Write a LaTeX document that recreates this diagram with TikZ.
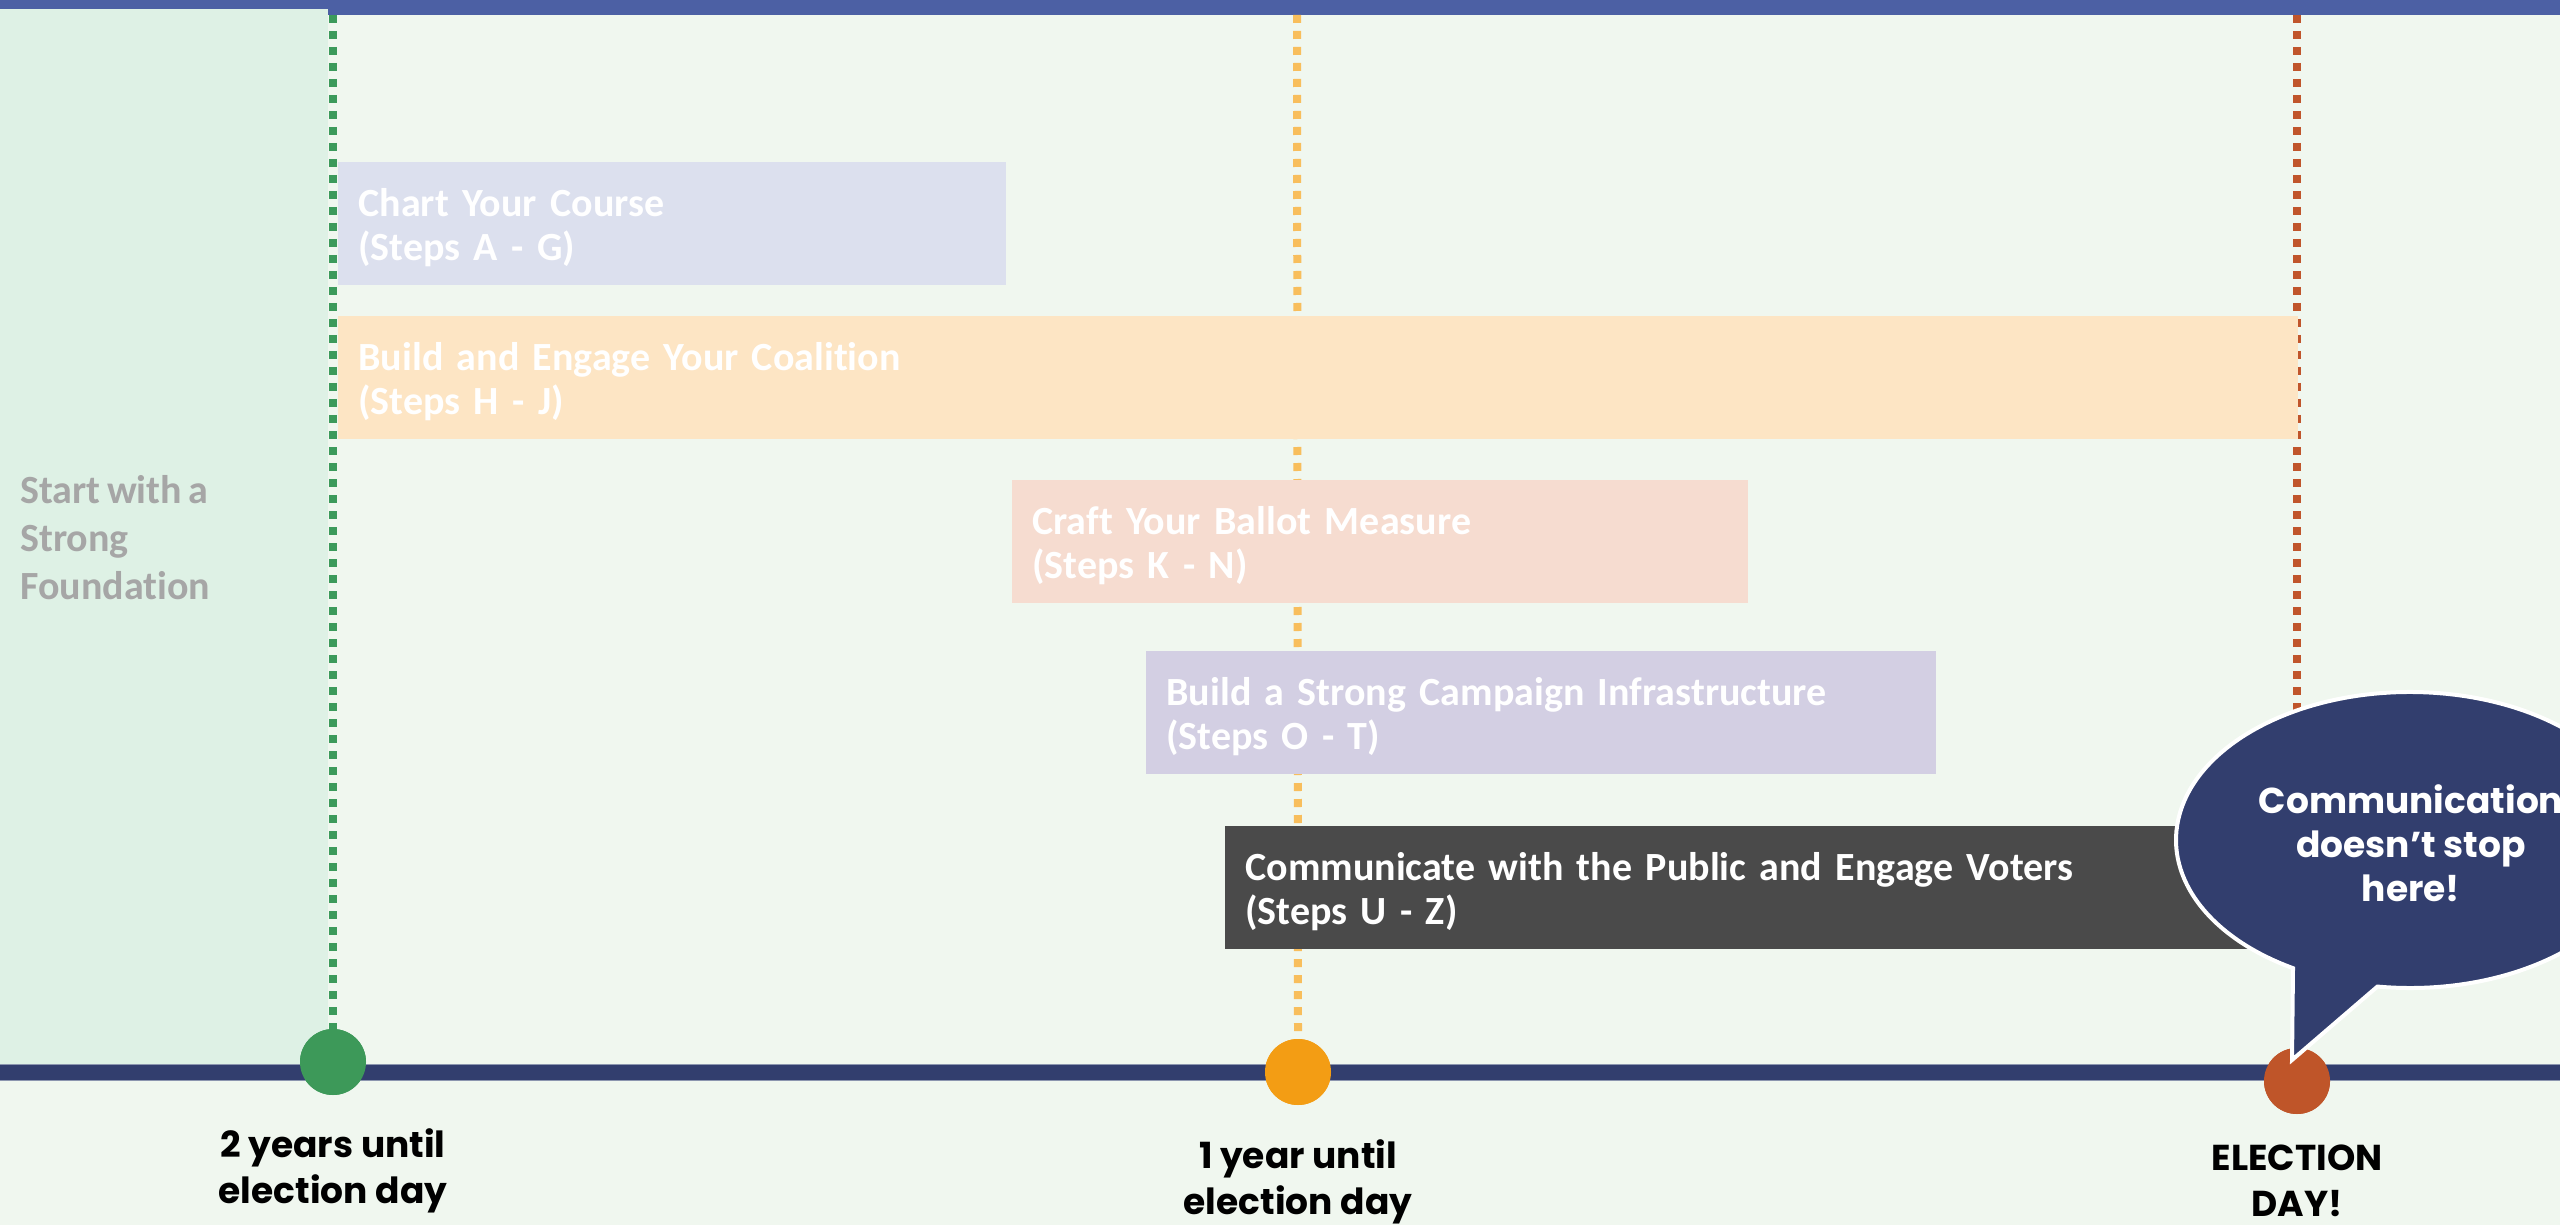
\documentclass[tikz,border=0pt]{standalone}
\usepackage{fontspec}
\setmainfont{Carlito}[Ligatures=NoCommon, WordSpace=0.72]
\newfontfamily\gothic{Poppins}
\usetikzlibrary{calc}
\definecolor{bgc}{HTML}{F0F7EF}
\definecolor{foundc}{HTML}{DEF1E5}
\definecolor{topbarc}{HTML}{4C60A4}
\definecolor{navyc}{HTML}{323E6E}
\definecolor{navyedge}{HTML}{8C96AF}
\definecolor{gdotc}{HTML}{3C9A5B}
\definecolor{gcircc}{HTML}{3D9959}
\definecolor{odotc}{HTML}{F8BE5C}
\definecolor{ocircc}{HTML}{F39D14}
\definecolor{rdotc}{HTML}{C0552B}
\definecolor{rcircc}{HTML}{BF5529}
\definecolor{chartc}{HTML}{DCE0EE}
\definecolor{buildc}{HTML}{FDE5C4}
\definecolor{craftc}{HTML}{F6DCD0}
\definecolor{infrac}{HTML}{D3CFE3}
\definecolor{commc}{HTML}{4A4A4A}
\definecolor{graytxt}{HTML}{A6A6A6}
\newcommand\phtop{\rule{0pt}{18pt}}
\begin{document}
\begin{tikzpicture}[x=0.5pt,y=0.5pt,
  phase/.style={anchor=north west, inner xsep=10pt, inner ysep=0pt, minimum height=61.5pt,
    align=left, text=white, font=\fontsize{20}{22}\selectfont\bfseries},
  dotline/.style={line width=4pt, dash pattern=on 4pt off 4pt},
  mcircle/.style={circle, minimum size=33pt, inner sep=0pt},
  mlabel/.style={align=center, text=black, font=\gothic\fontsize{18}{23}\selectfont\bfseries},
  foundtext/.style={align=left, text=graytxt, inner sep=0pt, font=\fontsize{20}{24}\selectfont\bfseries}]
\useasboundingbox (0,0) rectangle (2560,-1225);
\clip (0,0) rectangle (2560,-1225);
% background
\fill[bgc] (0,0) rectangle (2560,-1225);
\fill[topbarc] (0,0) rectangle (2560,-15);
\fill[foundc] (0,-9) rectangle (328,-1064);
\node[foundtext, anchor=west] (found) at (20,-538) {Start with a\\Strong\\Foundation};
% milestone circles
\node[mcircle, fill=gcircc] (m2) at (333,-1062) {};
\node[mcircle, fill=ocircc] (m1) at (1298,-1072) {};
\node[mcircle, fill=rcircc] (m0) at (2297,-1081) {};
% dotted guide lines
\coordinate (g0) at (333,-15);
\coordinate (o0) at (1297,-15);
\coordinate (r0) at (2297,-15);
\draw[dotline, gdotc] (g0) -- (m2.north);
\draw[dotline, odotc] (o0) -- (m1.north);
\draw[dotline, rdotc] (r0) -- (m0.north);
% timeline
\draw[navyedge, line width=0.5pt, fill=navyc] (-5,-1064) rectangle (2565,-1080);
\node[mcircle, fill=gcircc] at (m2) {};
\node[mcircle, fill=ocircc] at (m1) {};
\node[mcircle, fill=rcircc] at (m0) {};
% phase boxes
\node[phase, fill=chartc, text width=314pt] (chart) at (338,-162) {\phtop Chart Your Course\\(Steps A - G)};
\node[phase, fill=buildc, text width=960pt] (build) at (338,-316) {\phtop Build and Engage Your Coalition\\(Steps H - J)};
\node[phase, fill=craftc, text width=348pt] (craft) at (1012,-480) {\phtop Craft Your Ballot Measure\\(Steps K - N)};
\node[phase, fill=infrac, text width=375pt] (infra) at (1146,-651) {\phtop Build a Strong Campaign Infrastructure\\(Steps O - T)};
\node[phase, fill=commc, text width=516.5pt] (comm) at (1225,-826) {\phtop Communicate with the Public and Engage Voters\\(Steps U - Z)};
% speech bubble
\coordinate (bc) at (2410,-840);
\coordinate (tip) at (2292,-1060);
\draw[white, line width=2pt, fill=navyc, line join=miter]
  ($(bc)+(262:117pt and 74pt)$) arc[start angle=262, end angle=600, x radius=117pt, y radius=74pt] -- (tip) -- cycle;
\node[align=center, text=white, font=\gothic\fontsize{18}{22}\selectfont\bfseries] (bubble) at (2411,-843) {Communication\\doesn’t stop\\here!};
% labels
\node[mlabel] (l2) at (333,-1171) {2 years until\\election day};
\node[mlabel] (l1) at (1298,-1182) {1 year until\\election day};
\node[mlabel] (l0) at (2297,-1181) {ELECTION\\DAY!};
\end{tikzpicture}
\end{document}
